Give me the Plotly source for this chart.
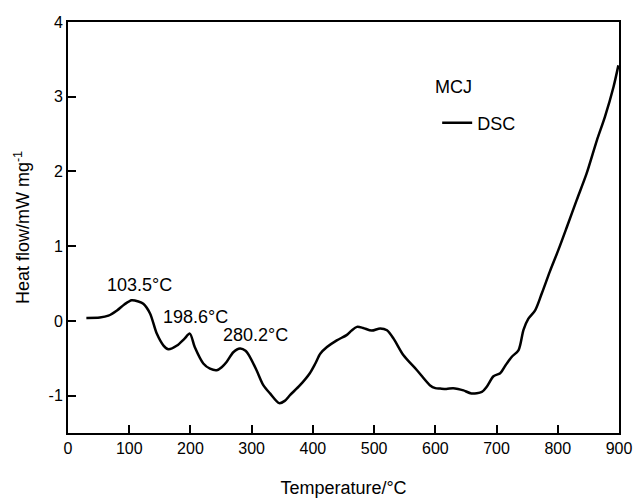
import plotly.graph_objects as go

temperature = [30, 52, 66, 80, 92, 104, 115, 123, 134, 145, 156, 164, 178, 190, 199,
               207, 221, 232, 243, 251, 259, 270, 281, 290, 297, 308, 319, 330, 345,
               354, 363, 379, 395, 404, 412, 423, 439, 455, 463, 472, 482, 496, 510,
               521, 532, 548, 570, 591, 600, 608, 618, 629, 637, 646, 659, 676, 684,
               695, 706, 715, 725, 736, 744, 752, 763, 774, 787, 801, 815, 831, 847,
               864, 877, 891, 899]
heat_flow = [0.04, 0.045, 0.07, 0.14, 0.22, 0.277, 0.26, 0.23, 0.10, -0.17, -0.33, -0.38,
             -0.33, -0.24, -0.17, -0.35, -0.57, -0.64, -0.66, -0.62, -0.55, -0.42, -0.37,
             -0.40, -0.48, -0.66, -0.86, -0.97, -1.10, -1.07, -0.99, -0.86, -0.70, -0.57,
             -0.44, -0.35, -0.26, -0.19, -0.13, -0.08, -0.094, -0.13, -0.10, -0.125,
             -0.24, -0.46, -0.66, -0.86, -0.90, -0.905, -0.91, -0.90, -0.91, -0.93,
             -0.97, -0.95, -0.88, -0.74, -0.70, -0.59, -0.48, -0.39, -0.12, 0.03, 0.14,
             0.37, 0.66, 0.95, 1.26, 1.62, 1.97, 2.42, 2.73, 3.13, 3.42]

peak_labels = ["103.5°C", "198.6°C", "280.2°C"]
peak_label_x = [116, 209, 307]
peak_label_y = [0.48, 0.055, -0.19]

x_ticks = [0, 100, 200, 300, 400, 500, 600, 700, 800, 900]
x_tick_labels = ["0", "100", "200", "300", "400", "500", "600", "700", "800", "900"]
y_ticks = [-1, 0, 1, 2, 3, 4]
y_tick_labels = ["-1", "0", "1", "2", "3", "4"]

FONT = "Arial, Liberation Sans, sans-serif"

fig = go.Figure()
fig.add_trace(go.Scatter(
    x=temperature, y=heat_flow, mode="lines", name="DSC",
    line=dict(color="black", width=2.5, shape="spline", smoothing=0.8),
))

for t, lx, ly in zip(peak_labels, peak_label_x, peak_label_y):
    fig.add_annotation(x=lx, y=ly, text=t, showarrow=False,
                       font=dict(family=FONT, size=18, color="black"))

fig.add_annotation(x=630, y=3.13, text="MCJ", showarrow=False,
                   font=dict(family=FONT, size=18, color="black"))

axis_common = dict(
    showline=True, linecolor="black", linewidth=2, mirror=True,
    ticks="inside", ticklen=8, tickwidth=2, tickcolor="black",
    showgrid=False, zeroline=False, automargin=False,
    tickfont=dict(family=FONT, size=16, color="black"),
)

fig.update_layout(
    width=633, height=498,
    margin=dict(l=68, r=14, t=22, b=65),
    paper_bgcolor="white", plot_bgcolor="white",
    font=dict(family=FONT, size=18, color="black"),
    xaxis=dict(range=[0, 900], tickvals=x_ticks, ticktext=x_tick_labels,
               title=dict(text="Temperature/°C", font=dict(family=FONT, size=18), standoff=25),
               **axis_common),
    yaxis=dict(range=[-1.5, 4], tickvals=y_ticks, ticktext=y_tick_labels,
               title=dict(text="Heat flow/mW mg<sup>-1</sup>", font=dict(family=FONT, size=18), standoff=14),
               **axis_common),
    showlegend=True,
    legend=dict(x=0.67, y=0.754, xanchor="left", yanchor="middle",
                bgcolor="rgba(0,0,0,0)", font=dict(family=FONT, size=18)),
)

fig.write_html("out.html", config={"displayModeBar": False},
               post_script="document.body.style.margin='0';document.body.style.overflow='hidden';")
